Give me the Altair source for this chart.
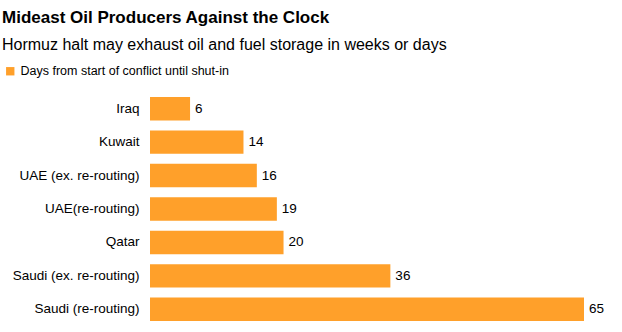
import altair as alt
import pandas as pd

countries = ["Iraq", "Kuwait", "UAE (ex. re-routing)", "UAE(re-routing)", "Qatar",
             "Saudi (ex. re-routing)", "Saudi (re-routing)"]
days = [6, 14, 16, 19, 20, 36, 65]
series = "Days from start of conflict until shut-in"

df = pd.DataFrame({"country": countries, "days": days, "series": [series] * len(days)})

FONT = "Liberation Sans"
ORANGE = "#FFA02A"

base = alt.Chart(df).encode(
    y=alt.Y("country:N", sort=countries, title=None,
            scale=alt.Scale(paddingInner=0.3, paddingOuter=0.15),
            axis=alt.Axis(ticks=False, domain=False, labelFontSize=13.5, labelColor="#000",
                          labelFont=FONT, labelPadding=11, labelLimit=300)),
)

bars = base.mark_bar(color=ORANGE).encode(
    x=alt.X("days:Q", title=None, scale=alt.Scale(domain=[0, 65], nice=False),
            axis=None),
    color=alt.Color("series:N", scale=alt.Scale(range=[ORANGE]),
                    legend=alt.Legend(title=None, orient="none", legendX=-146, legendY=-27,
                                      symbolType="square", symbolSize=70,
                                      labelFont=FONT, labelFontSize=12.5, labelColor="#000",
                                      symbolStrokeWidth=0, labelLimit=400)),
)

labels = base.mark_text(align="left", dx=5, font=FONT, fontSize=13.5, color="#000").encode(
    x="days:Q", text="days:Q"
)

chart = (bars + labels).properties(
    width=434, height=234,
    title=alt.TitleParams(
        text="Mideast Oil Producers Against the Clock",
        subtitle="Hormuz halt may exhaust oil and fuel storage in weeks or days",
        anchor="start", frame="bounds", font=FONT, fontSize=17, fontWeight="bold",
        color="#000", subtitleFont=FONT, subtitleFontSize=16, subtitleColor="#000",
        subtitlePadding=10, offset=11, dx=-2,
    ),
).configure_view(stroke=None).properties(
    autosize=alt.AutoSizeParams(type="none"),
    padding={"left": 150, "top": 92, "right": 38, "bottom": 6},
)

chart.save("out.html", embed_options={"renderer": "svg", "actions": False})
